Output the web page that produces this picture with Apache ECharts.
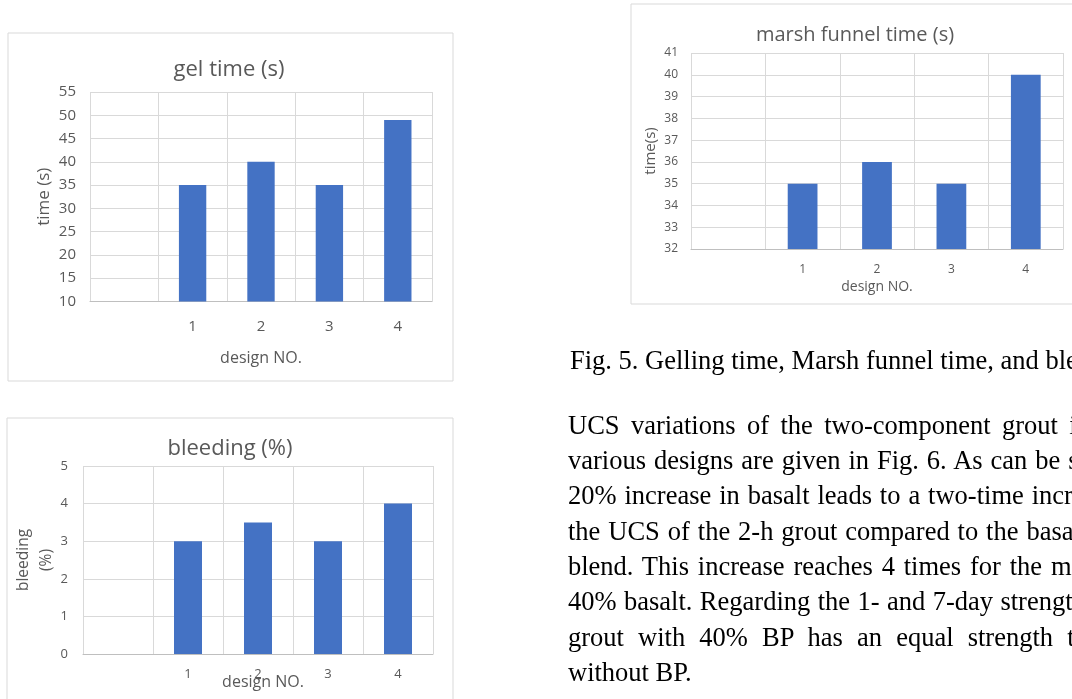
<!DOCTYPE html>
<html>
<head>
<meta charset="utf-8">
<script src="https://cdn.jsdelivr.net/npm/echarts@6/dist/echarts.min.js"></script>
<style>
body { margin: 0; background: #fff; overflow: hidden; }
#graph { position: absolute; left: 0; top: 0; width: 1072px; height: 699px; }
.txt { position: absolute; left: 568px; font-family: 'Liberation Serif', 'Times New Roman', serif; font-size: 26.5px; line-height: 35.3px; white-space: nowrap; color: #000; }
</style>
</head>
<body>
<div id="graph"></div>
<div id="text"></div>
<script>
var designs = ['', '1', '2', '3', '4'];
var gelTime = [null, 35, 40, 35, 49];
var marshTime = [null, 35, 36, 35, 40];
var bleeding = [null, 3, 3.5, 3, 4];

var caption = 'Fig. 5. Gelling time, Marsh funnel time, and bleeding of the designs.';
var paragraph = [
    'UCS variations of the two-component grout in the',
    'various designs are given in Fig. 6. As can be seen,',
    '20% increase in basalt leads to a two-time increase in',
    'the UCS of the 2-h grout compared to the basalt-free',
    'blend. This increase reaches 4 times for the mix with',
    '40% basalt. Regarding the 1- and 7-day strength, the',
    'grout with 40% BP has an equal strength to the grout',
    'without BP.'
];
// espacement des mots pour imiter le texte justifie
var wordGaps = [4.8, 1.3, 1.3, 1.3, 2.2, 0.8, 7.5, 0];

var textBox = document.getElementById('text');
var cap = document.createElement('div');
cap.className = 'txt';
cap.style.left = '570px';
cap.style.top = '342.5px';
cap.textContent = caption;
textBox.appendChild(cap);
paragraph.forEach(function (line, i) {
    var d = document.createElement('div');
    d.className = 'txt';
    d.style.top = (407.8 + i * 35.3) + 'px';
    d.style.wordSpacing = wordGaps[i] + 'px';
    d.textContent = line;
    textBox.appendChild(d);
});

var grey = '#595959';
var font = 'Open Sans';

function xAxis(idx, size, margin, name, nameSize, nameGap, shift) {
    return {
        type: 'category', gridIndex: idx, data: designs,
        axisLine: { lineStyle: { color: '#bfbfbf' } },
        axisTick: { show: false },
        axisLabel: { color: grey, fontFamily: font, fontSize: size, margin: margin },
        splitLine: { show: true, lineStyle: { color: '#d9d9d9' } },
        name: name, nameLocation: 'middle', nameGap: nameGap, nameMoveOverlap: false,
        nameTextStyle: { color: grey, fontFamily: font, fontSize: nameSize, padding: [0, 0, 0, shift || 0] }
    };
}

function yAxis(idx, min, max, step, size, margin, name, nameSize, nameGap) {
    return {
        type: 'value', gridIndex: idx, min: min, max: max, interval: step,
        axisLine: { show: false },
        axisTick: { show: false },
        axisLabel: { color: grey, fontFamily: font, fontSize: size, margin: margin },
        splitLine: { lineStyle: { color: '#d9d9d9' } },
        name: name, nameLocation: 'middle', nameGap: nameGap, nameMoveOverlap: false,
        nameTextStyle: { color: grey, fontFamily: font, fontSize: nameSize, lineHeight: 23 }
    };
}

function bars(idx, data) {
    return {
        type: 'bar', xAxisIndex: idx, yAxisIndex: idx, data: data,
        barWidth: '40%', itemStyle: { color: '#4472C4' }
    };
}

var chart = echarts.init(document.getElementById('graph'));

var option = {
    animation: false,
    backgroundColor: '#fff',
    title: [
        { text: 'gel time (s)', left: 229, top: 70, textAlign: 'center', textVerticalAlign: 'middle', padding: 0,
          textStyle: { color: grey, fontFamily: font, fontSize: 22, fontWeight: 'normal' } },
        { text: 'marsh funnel time (s)', left: 855, top: 35, textAlign: 'center', textVerticalAlign: 'middle', padding: 0,
          textStyle: { color: grey, fontFamily: font, fontSize: 20, fontWeight: 'normal' } },
        { text: 'bleeding (%)', left: 230, top: 449, textAlign: 'center', textVerticalAlign: 'middle', padding: 0,
          textStyle: { color: grey, fontFamily: font, fontSize: 22, fontWeight: 'normal' } }
    ],
    graphic: [
        { type: 'rect', shape: { x: 8, y: 33, width: 445, height: 348 }, style: { fill: 'none', stroke: '#d9d9d9' } },
        { type: 'rect', shape: { x: 631, y: 4, width: 500, height: 300 }, style: { fill: 'none', stroke: '#d9d9d9' } },
        { type: 'rect', shape: { x: 7, y: 418, width: 446, height: 320 }, style: { fill: 'none', stroke: '#d9d9d9' } }
    ],
    grid: [
        { left: 90, top: 92, width: 342, height: 209.5 },
        { left: 691, top: 53, width: 372, height: 196 },
        { left: 83, top: 466, width: 350, height: 188 }
    ],
    xAxis: [
        xAxis(0, 15, 18, 'design NO.', 16, 49),
        xAxis(1, 12, 15, 'design NO.', 14, 31),
        xAxis(2, 13, 14, 'design NO.', 16, 20, 10)
    ],
    yAxis: [
        yAxis(0, 10, 55, 5, 15, 14, 'time (s)', 17, 34),
        yAxis(1, 32, 41, 1, 12, 13, 'time(s)', 15, 29),
        yAxis(2, 0, 5, 1, 13, 15, 'bleeding\n(%)', 15.5, 25)
    ],
    series: [
        bars(0, gelTime),
        bars(1, marshTime),
        bars(2, bleeding)
    ]
};

chart.setOption(option);
</script>
</body>
</html>
